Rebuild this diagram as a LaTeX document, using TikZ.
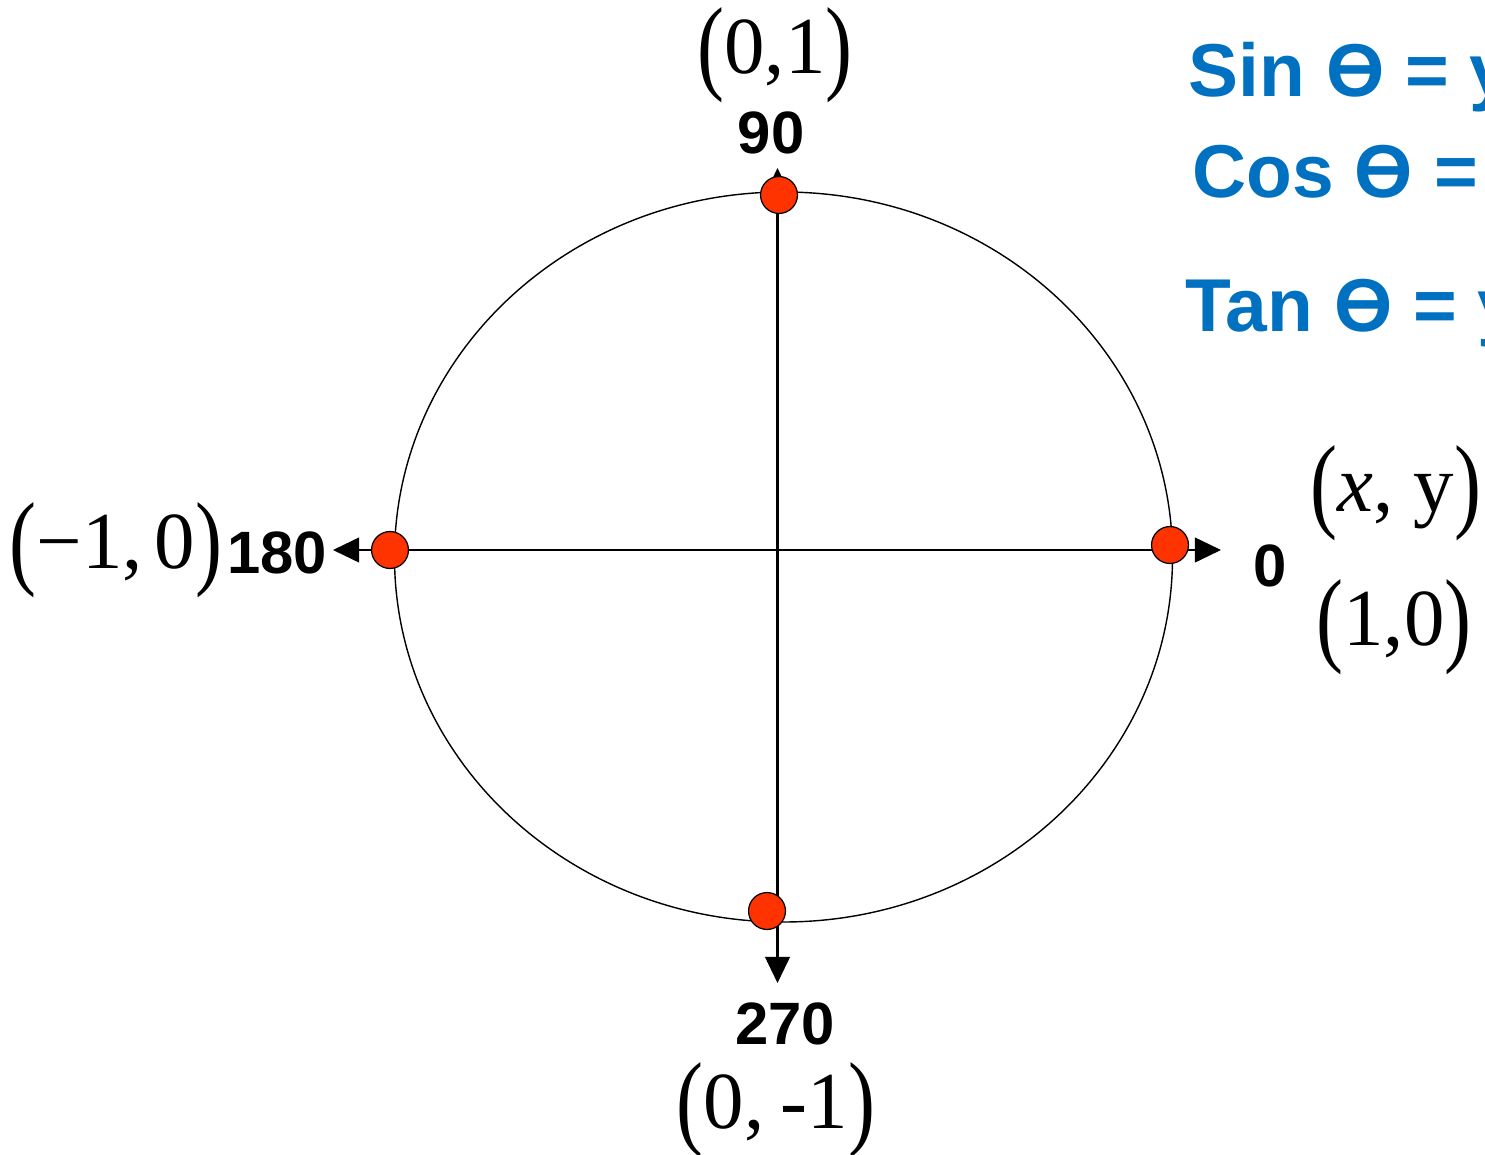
\documentclass[tikz,border=0pt]{standalone}
\usepackage{fontspec}
\setmainfont{Liberation Serif}
\setsansfont{Liberation Sans}
\usetikzlibrary{arrows.meta}
\definecolor{trigblue}{HTML}{0070C0}
\definecolor{dotred}{HTML}{FF3300}
\tikzset{
	degtext/.style={font=\sffamily\bfseries\fontsize{17}{20}\selectfont}
}
\tikzset{
	pairtext/.style={font=\fontsize{23}{26}\selectfont, inner sep=0pt}
}
\tikzset{
	trigtext/.style={font=\sffamily\bfseries\fontsize{21.3}{26}\selectfont, text=trigblue, anchor=base west, inner sep=0pt}
}
\newcommand{\bigpar}[1]{\raisebox{-.08em}{\scalebox{1}[1.3]{(}}#1\raisebox{-.08em}{\scalebox{1}[1.3]{)}}}

\begin{document}
\begin{tikzpicture}[x=0.01cm, y=-0.01cm, >={Triangle[length=7.4pt,width=7pt]},
    dot/.style={circle, draw, line width=0.35pt, fill=dotred, minimum size=10.5pt, inner sep=0pt}]
      \useasboundingbox (0,0) rectangle (1485,1155);
      \clip (0,0) rectangle (1485,1155);
      \draw[line width=0.4pt] (783.5,557) ellipse [x radius=389, y radius=365];

      % axes
      \coordinate (W) at (333,550);
      \coordinate (E) at (1221,550);
      \coordinate (N) at (777.5,168);
      \coordinate (S) at (777.5,983);
      \draw[line width=0.6pt, <->] (W) -- (E);
      \draw[line width=0.6pt, <->] (N) -- (S);

      \node[dot] (p90) at (779,195) {};
      \node[dot] (p180) at (390,550) {};
      \node[dot] (p0) at (1170,545) {};
      \node[dot] (p270) at (767,911) {};

      \node[degtext] (d90) at (771,133) {90};
      \node[pairtext] (c90) at (775,55) {\bigpar{0,1}};
      \node[degtext] (d180) at (277,553) {180};
      \node[pairtext] (c180) at (116,550) {\bigpar{−1,\hspace{0.15em}0}};
      \node[degtext] (d0) at (1270,566) {0};
      \node[pairtext] (cxy) at (1396,493) {\bigpar{\textit{x}, y}};
      \node[pairtext] (c0) at (1394,627) {\bigpar{1,0}};
      \node[degtext] (d270) at (785,1024) {270};
      \node[pairtext] (c270) at (776,1110) {\bigpar{0,\hspace{0.2em}-1}};

      \node[trigtext] (sin) at (1188,97) {Sin Ɵ = y};
      \node[trigtext] (cos) at (1192,198) {Cos Ɵ =};
      \node[trigtext] (tan) at (1185,332) {Tan Ɵ = y};
    \end{tikzpicture}
\end{document}
